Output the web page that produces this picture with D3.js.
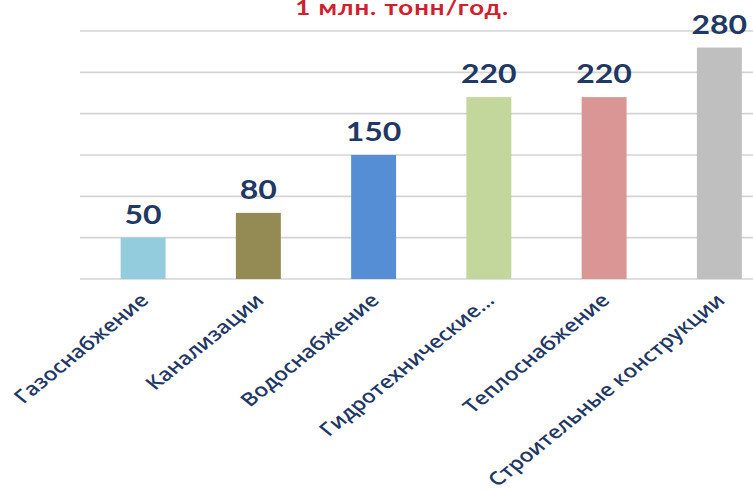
<!DOCTYPE html>
<html>
<head>
<meta charset="utf-8">
<script src="https://cdn.jsdelivr.net/npm/d3@7"></script>
<style>
  html, body { margin: 0; padding: 0; background: #ffffff; }
  svg { display: block; }
</style>
</head>
<body>
<script>
// ---- data ----
const categories = ["Газоснабжение", "Канализации", "Водоснабжение", "Гидротехнические...", "Теплоснабжение", "Строительные конструкции"];
const values = [50, 80, 150, 220, 220, 280];
const barColors = ["#93CDDD", "#948A54", "#558ED5", "#C3D69B", "#D99694", "#BFBFBF"];
const gridTicks = [0, 50, 100, 150, 200, 250, 300];
const title = "1 млн. тонн/год.";

// ---- layout ----
const W = 753, H = 492;
const sx = 1.23; // horizontal stretch of the original picture
const LW = W / sx;

const svg = d3.select("body").append("svg").attr("width", W).attr("height", H);
const g = svg.append("g").attr("transform", `scale(${sx},1)`);

const x = d3.scaleBand().domain(categories).range([69.5, 69.5 + 6 * 93.7])
  .paddingInner(0.61).paddingOuter(0.305);
const y = d3.scaleLinear().domain([0, 300]).range([279, 31]);

// gridlines
g.append("g").selectAll("line").data(gridTicks).join("line")
  .attr("x1", 65).attr("x2", LW + 40)
  .attr("y1", d => y(d)).attr("y2", d => y(d))
  .attr("stroke", "#D4D4D4").attr("stroke-width", 1.6);

// title
g.append("text").attr("x", 327).attr("y", 15)
  .attr("text-anchor", "middle")
  .attr("font-family", "Lato, 'Open Sans', sans-serif").attr("font-weight", 700)
  .attr("font-size", 21).attr("fill", "#D0202E")
  .attr("letter-spacing", 0.8)
  .text(title);

// bars
g.append("g").selectAll("rect").data(values).join("rect")
  .attr("x", (d, i) => x(categories[i]))
  .attr("width", x.bandwidth())
  .attr("y", d => y(d))
  .attr("height", d => y(0) - y(d))
  .attr("fill", (d, i) => barColors[i]);

// value labels
g.append("g").selectAll("text").data(values).join("text")
  .attr("x", (d, i) => x(categories[i]) + x.bandwidth() / 2)
  .attr("y", d => y(d) - 14)
  .attr("text-anchor", "middle")
  .attr("font-family", "Lato, 'Open Sans', sans-serif").attr("font-weight", 700)
  .attr("font-size", 26).attr("fill", "#1F3864")
  .text(d => d);

// x axis labels
const xAxis = d3.axisBottom(x).tickSize(0).tickPadding(0);
const ax = g.append("g").attr("transform", `translate(0,${y(0)})`).call(xAxis);
ax.select(".domain").remove();
ax.selectAll("text")
  .attr("font-family", "'Open Sans', Lato, sans-serif").attr("font-weight", 600)
  .attr("font-size", 18.5).attr("fill", "#1F3864")
  .attr("text-anchor", "end")
  .attr("dy", "0.35em")
  .attr("transform", "translate(1,18) rotate(-45)");
</script>
</body>
</html>
